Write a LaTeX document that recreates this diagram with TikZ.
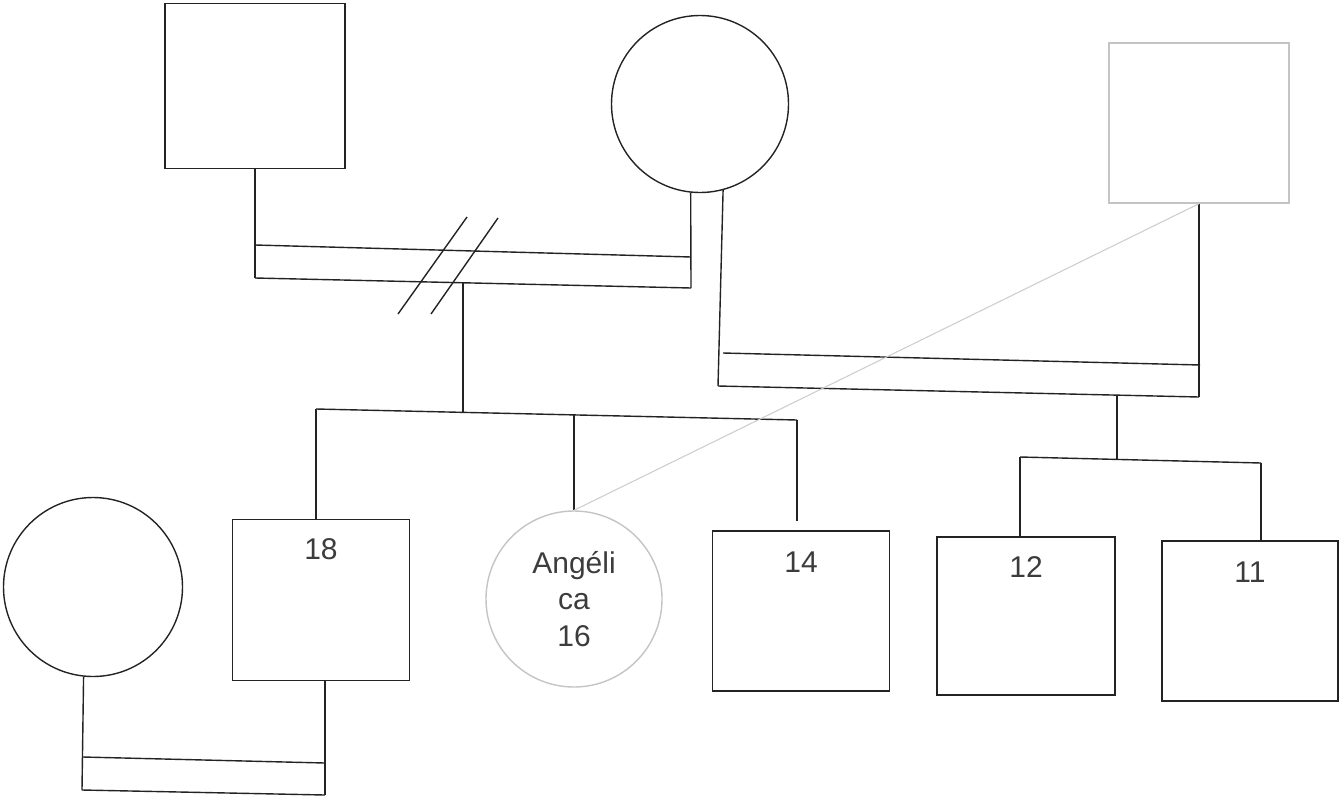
\documentclass[tikz,border=0pt]{standalone}
\usepackage{fontspec}
\setmainfont{Liberation Sans}
\usetikzlibrary{positioning}

\definecolor{inkline}{RGB}{35,35,35}
\definecolor{paleline}{RGB}{196,196,196}
\definecolor{palelink}{RGB}{206,206,206}
\definecolor{inktext}{RGB}{60,60,60}

\tikzset{
  male/.style={draw=inkline, line width=1.4pt, rectangle, inner sep=0pt},
  female/.style={draw=inkline, line width=1.4pt, circle, inner sep=0pt, minimum size=177pt},
  age/.style={inner sep=0pt, text=inktext, font=\fontsize{30}{36.5}\selectfont},
  tie/.style={draw=inkline, line width=1.4pt},
}

\begin{document}
\begin{tikzpicture}[x=1pt,y=-1pt]
\useasboundingbox (0,0) rectangle (1340,798);

%Shape: Square [father]
\node [male, minimum width=180pt, minimum height=165pt] (father) at (255,86) {};
%Shape: Circle [mother]
\node [female] (mother) at (700,104) {};
%Shape: Square [stepfather]
\node [male, draw=paleline, minimum width=180pt, minimum height=160pt] (stepfather) at (1199,123) {};

%Shape: Circle [wife]
\node [female, minimum size=179pt] (wife) at (93,587) {};
%Shape: Square [son18]
\node [male, minimum width=177pt, minimum height=161pt] (son18) at (321,600) {};
%Shape: Circle [angelica]
\node [female, draw=paleline, minimum size=176pt, align=center, text=inktext, font=\fontsize{30}{36.5}\selectfont] (angelica) at (574,599) {Angéli\\ca\\16};
%Shape: Square [son14]
\node [male, minimum width=177pt, minimum height=160pt] (son14) at (801,611) {};
%Shape: Square [son12]
\node [male, minimum width=178pt, minimum height=158pt] (son12) at (1026,616) {};
%Shape: Square [son11]
\node [male, minimum width=176pt, minimum height=160pt] (son11) at (1250,621) {};

% Text Node
\node [age, below=20pt of son18.north] (age18) {18};
\node [age, below=21pt of son14.north] (age14) {14};
\node [age, below=20pt of son12.north] (age12) {12};
\node [age, below=21pt of son11.north] (age11) {11};

%Straight Lines [father + mother]
\coordinate (m1a) at (255,245);
\coordinate (m1b) at (691,257);
\coordinate (m1c) at (255,278);
\coordinate (m1d) at (691,288);
\draw [tie] (father.south) -- (m1c);
\draw [tie] (mother.264) -- (m1d);
\draw [tie] (m1a) -- (m1b);
\draw [tie] (m1c) -- (m1d);
% divorce marks
\draw [tie] (467,217) -- (398,314);
\draw [tie] (498,218) -- (431,314);

%Straight Lines [children of the first couple]
\coordinate (m1s) at (463,283);
\coordinate (c1l) at (316,409);
\coordinate (c1m) at (463,413);
\coordinate (c1r) at (797,420);
\coordinate (c1a) at (574,415);
\draw [tie] (m1s) -- (c1m);
\draw [tie] (c1l) -- (c1r);
\draw [tie] (c1l) -- (c1l |- son18.north);
\draw [tie] (c1a) -- (angelica.north);
\draw [tie, shorten >=9pt] (c1r) -- (c1r |- son14.north);

%Straight Lines [mother + stepfather]
\coordinate (m2a) at (723,353);
\coordinate (m2b) at (1200,365);
\coordinate (m2c) at (718,386);
\coordinate (m2d) at (1199,397);
\draw [tie] (mother.285) -- (m2c);
\draw [tie] (stepfather.south) -- (m2d);
\draw [tie] (m2a) -- (m2b);
\draw [tie] (m2c) -- (m2d);

%Straight Lines [children of the second couple]
\coordinate (m2s) at (1117,395);
\coordinate (c2m) at (1117,459);
\coordinate (c2l) at (1020,457);
\coordinate (c2r) at (1261,463);
\draw [tie] (m2s) -- (c2m);
\draw [tie] (c2l) -- (c2r);
\draw [tie] (c2l) -- (c2l |- son12.north);
\draw [tie] (c2r) -- (c2r |- son11.north);

%Straight Lines [stepfather to angelica]
\draw [draw=palelink, line width=1.1pt] (stepfather.south) -- (angelica.north);

%Straight Lines [son18 + wife]
\coordinate (m3a) at (83,757);
\coordinate (m3b) at (325,763);
\coordinate (m3c) at (82,790);
\coordinate (m3d) at (325,795);
\draw [tie] (wife.264) -- (m3c);
\draw [tie] (son18.south -| m3d) -- (m3d);
\draw [tie] (m3a) -- (m3b);
\draw [tie] (m3c) -- (m3d);

\end{tikzpicture}
\end{document}
